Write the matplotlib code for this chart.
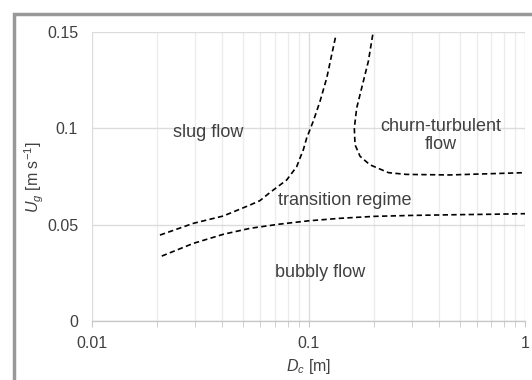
import matplotlib
matplotlib.use('Agg')
import matplotlib.pyplot as plt
from matplotlib.patches import Rectangle
from matplotlib.ticker import FixedLocator, NullFormatter

plt.rcParams['font.family'] = ['Liberation Sans', 'DejaVu Sans']
plt.rcParams['mathtext.fontset'] = 'custom'
plt.rcParams['mathtext.rm'] = 'Liberation Sans'
plt.rcParams['mathtext.it'] = 'Liberation Sans:italic'

# boundary bubbly / transition
x_bub = [0.021, 0.0294, 0.0404, 0.0537, 0.0726, 0.1, 0.14, 0.2, 0.3, 0.5, 0.7, 1.0]
y_bub = [0.0337, 0.0403, 0.045, 0.0481, 0.0502, 0.052, 0.0533, 0.0543, 0.0548,
         0.0552, 0.0554, 0.0557]

# boundary slug / transition
x_slug = [0.0206, 0.0294, 0.0404, 0.0537, 0.0597, 0.0664, 0.0793, 0.0882, 0.0913,
          0.0946, 0.0981, 0.1052, 0.113, 0.1214, 0.128, 0.134]
y_slug = [0.0446, 0.0507, 0.0545, 0.0602, 0.0625, 0.0667, 0.0732, 0.0801, 0.0845,
          0.0888, 0.095, 0.1037, 0.114, 0.1261, 0.1382, 0.1486]

# boundary transition / churn-turbulent
x_churn = [0.198, 0.189, 0.176, 0.167, 0.1628, 0.164, 0.173, 0.192, 0.234, 0.282,
           0.447, 1.0]
y_churn = [0.1486, 0.1348, 0.1209, 0.1106, 0.1002, 0.0915, 0.0855, 0.0811, 0.077,
           0.0761, 0.0758, 0.077]

yticks = [0, 0.05, 0.1, 0.15]
ytick_labels = ['0', '0.05', '0.1', '0.15']
xticks = [0.01, 0.1, 1]
xtick_labels = ['0.01', '0.1', '1']

txt = '#404040'

fig = plt.figure(figsize=(5.32, 3.8), dpi=100)
ax = fig.add_axes([92/532, 1-321/380, 433/532, 289/380])

style = dict(color='black', lw=1.2, linestyle=(0, (3.2, 2)))
ax.plot(x_bub, y_bub, **style)
ax.plot(x_slug, y_slug, **style)
ax.plot(x_churn, y_churn, **style)

ax.set_xscale('log')
ax.set_xlim(0.01, 1)
ax.set_ylim(0, 0.15)

minor = [m * 10.0**e for e in (-2, -1) for m in range(2, 10)]
ax.xaxis.set_major_locator(FixedLocator(xticks))
ax.xaxis.set_minor_locator(FixedLocator(minor))
ax.xaxis.set_minor_formatter(NullFormatter())
ax.set_xticklabels(xtick_labels)
ax.set_yticks(yticks)
ax.set_yticklabels(ytick_labels)

ax.grid(True, which='major', color='#dcdcdc', lw=1.0)
ax.grid(True, which='minor', axis='x', color='#ececec', lw=1.0)
ax.set_axisbelow(True)
for s in ('top', 'right', 'left'):
    ax.spines[s].set_visible(False)
ax.spines['bottom'].set_color('#c8c8c8')
ax.spines['bottom'].set_linewidth(1.0)

ax.tick_params(axis='x', which='both', direction='out', length=4, color='#c8c8c8',
               labelsize=11.5, labelcolor=txt, pad=7)
ax.tick_params(axis='y', length=0, labelsize=11.5, labelcolor=txt, pad=10)

lab = dict(fontsize=13, color=txt, ha='center', va='center')
ax.text(0.0343, 0.098, 'slug flow', **lab)
ax.text(0.409, 0.0962, 'churn-turbulent\nflow', linespacing=1.1, **lab)
ax.text(0.1475, 0.0625, 'transition regime', **lab)
ax.text(0.113, 0.025, 'bubbly flow', **lab)

fig.text(309/532, 1-367/380, r'$D_c$ [m]', fontsize=11.5, color=txt, ha='center', va='center')
fig.text(34/532, 1-177/380, r'$U_g$ [m s$^{-1}$]', fontsize=11.5, color=txt,
         ha='center', va='center', rotation=90)

# gray frame of the original figure (cropped at right and bottom)
fig.patches.append(Rectangle((13.5/532, -0.5), 2, 1.5 - 14/380, transform=fig.transFigure,
                             fill=False, edgecolor='#999999', lw=2.5))

fig.savefig('out.png', dpi=100)
